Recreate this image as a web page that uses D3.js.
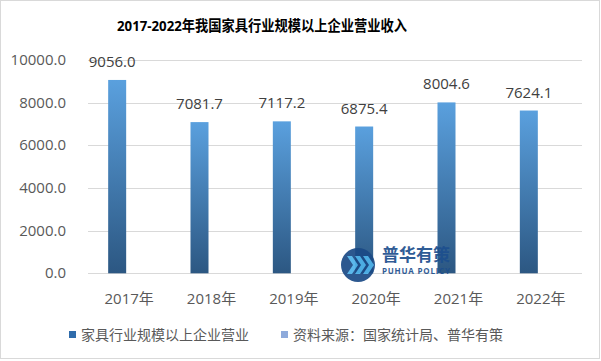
<!DOCTYPE html>
<html>
<head>
<meta charset="utf-8">
<script src="https://cdn.jsdelivr.net/npm/d3@7"></script>
<style>
  body { margin: 0; background: #fff; }
  text { font-family: "Open Sans", "Noto Sans CJK SC", sans-serif; }
</style>
</head>
<body>
<div id="chart"></div>
<script>
const years = ["2017年", "2018年", "2019年", "2020年", "2021年", "2022年"];
const revenue = [9056.0, 7081.7, 7117.2, 6875.4, 8004.6, 7624.1];
const yTicks = [0, 2000, 4000, 6000, 8000, 10000];
const legendNames = ["家具行业规模以上企业营业", "资料来源：国家统计局、普华有策"];
const legendColors = ["#2f6cab", "#8eaadb"];

const svg = d3.select("#chart").append("svg")
  .attr("width", 601).attr("height", 361);

// outer frame
svg.append("rect")
  .attr("x", 0.5).attr("y", 0.5)
  .attr("width", 599).attr("height", 358)
  .attr("fill", "#fff").attr("stroke", "#d9d9d9");

const defs = svg.append("defs");
const grad = defs.append("linearGradient")
  .attr("id", "barGrad").attr("x1", 0).attr("y1", 0).attr("x2", 0).attr("y2", 1);
grad.append("stop").attr("offset", "0%").attr("stop-color", "#5aa0de");
grad.append("stop").attr("offset", "100%").attr("stop-color", "#2c5782");

svg.append("text")
  .attr("x", 262).attr("y", 31)
  .attr("text-anchor", "middle")
  .attr("font-size", 15).attr("font-weight", "bold")
  .attr("fill", "#000")
  .attr("textLength", 290).attr("lengthAdjust", "spacingAndGlyphs")
  .text("2017-2022年我国家具行业规模以上企业营业收入");

const x = d3.scaleBand().domain(years).range([88, 582]);
const y = d3.scaleLinear().domain([0, 10000]).range([273.3, 59.8]);

// grid lines
svg.append("g")
  .selectAll("line")
  .data(yTicks)
  .join("line")
  .attr("x1", 88).attr("x2", 582)
  .attr("y1", d => Math.round(y(d)) + 0.5)
  .attr("y2", d => Math.round(y(d)) + 0.5)
  .attr("stroke", "#d9d9d9");

// y labels
svg.append("g")
  .selectAll("text")
  .data(yTicks)
  .join("text")
  .attr("x", 66)
  .attr("y", d => y(d) + 5)
  .attr("text-anchor", "end")
  .attr("font-size", 15)
  .attr("fill", "#595959")
  .text(d => d3.format(".1f")(d));

// x labels
svg.append("g")
  .selectAll("text")
  .data(years)
  .join("text")
  .attr("x", d => x(d) + x.bandwidth() / 2)
  .attr("y", 304)
  .attr("text-anchor", "middle")
  .attr("font-size", 15)
  .attr("fill", "#595959")
  .text(d => d);

const barW = 18;
const barX = d => x(d) + x.bandwidth() / 2 - 21;

svg.append("g")
  .selectAll("rect")
  .data(years)
  .join("rect")
  .attr("x", d => barX(d))
  .attr("y", (d, i) => y(revenue[i]))
  .attr("width", barW)
  .attr("height", (d, i) => y(0) - y(revenue[i]))
  .attr("fill", "url(#barGrad)");

// data labels
svg.append("g")
  .selectAll("text")
  .data(years)
  .join("text")
  .attr("x", (d, i) => barX(d) + barW / 2 - (i === 0 ? 5 : 0))
  .attr("y", (d, i) => y(revenue[i]) - 13)
  .attr("text-anchor", "middle")
  .attr("font-size", 15)
  .attr("fill", "#404040")
  .text((d, i) => d3.format(".1f")(revenue[i]));

// watermark
const wm = svg.append("g").attr("opacity", 0.92);
wm.append("circle").attr("cx", 358).attr("cy", 265).attr("r", 17).attr("fill", "#1b4a86");
[0, 8, 16].forEach(dx => {
  wm.append("path")
    .attr("d", `M${347 + dx},${256} l6,9 l-6,9 h5 l6,-9 l-6,-9 z`)
    .attr("fill", "#4fb3ea");
});
wm.append("text")
  .attr("x", 382).attr("y", 261)
  .attr("font-family", "Noto Sans CJK SC").attr("font-weight", "bold")
  .attr("font-size", 17).attr("fill", "#1d4f8e")
  .text("普华有策");
wm.append("text")
  .attr("x", 382).attr("y", 274)
  .attr("font-family", "Roboto").attr("font-weight", "bold")
  .attr("font-size", 8).attr("fill", "#1d4f8e")
  .attr("textLength", 68)
  .text("PUHUA POLICY");

// legend
const legendX = [69, 281];
const lg = svg.append("g");
legendNames.forEach((name, i) => {
  lg.append("rect")
    .attr("x", legendX[i]).attr("y", 331)
    .attr("width", 7).attr("height", 7)
    .attr("fill", legendColors[i]);
  lg.append("text")
    .attr("x", legendX[i] + 12).attr("y", 340)
    .attr("font-family", "Noto Sans CJK SC")
    .attr("font-size", 14)
    .attr("fill", "#595959")
    .text(name);
});
</script>
</body>
</html>
